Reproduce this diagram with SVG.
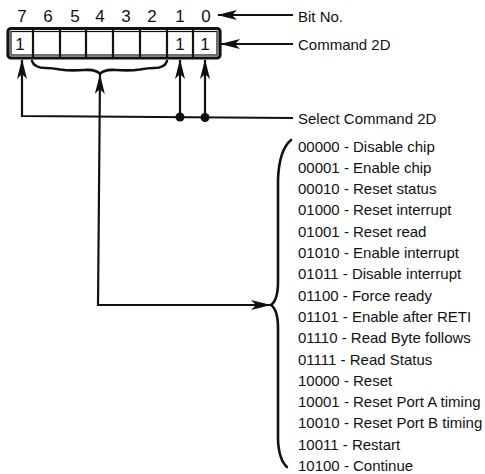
<svg xmlns="http://www.w3.org/2000/svg" width="485" height="474" viewBox="0 0 485 474">
<defs>
<style>
text{font-family:"Liberation Sans",Arial,sans-serif;fill:#111}
.bit{font-size:17px;text-anchor:middle}
.lbl{font-size:15px}
.ln{fill:none;stroke:#111;stroke-width:2.2}
.br{fill:none;stroke:#111;stroke-width:2.6;stroke-linecap:round}
</style>
<marker id="ah" viewBox="0 0 20 10" refX="19" refY="5" markerWidth="20" markerHeight="10" markerUnits="userSpaceOnUse" orient="auto-start-reverse">
<path d="M0,0 L20,5 L0,10 L5,5 z" fill="#111"/>
</marker>
</defs>
<rect width="485" height="474" fill="#fff"/>

<g id="bitnumbers">
<text class="bit" x="22" y="22">7</text>
<text class="bit" x="48" y="22">6</text>
<text class="bit" x="75" y="22">5</text>
<text class="bit" x="100" y="22">4</text>
<text class="bit" x="126" y="22">3</text>
<text class="bit" x="152" y="22">2</text>
<text class="bit" x="180" y="22">1</text>
<text class="bit" x="206" y="22">0</text>
</g>

<g id="register">
<rect x="8" y="28.5" width="212" height="29.5" rx="3" fill="#fff" stroke="#111" stroke-width="3.2"/>
<rect x="11" y="31.5" width="206" height="23.5" fill="none" stroke="#111" stroke-width="1.2"/>
<g stroke="#111" stroke-width="2.2">
<line x1="33" y1="30" x2="33" y2="57"/>
<line x1="60" y1="30" x2="60" y2="57"/>
<line x1="86" y1="30" x2="86" y2="57"/>
<line x1="113" y1="30" x2="113" y2="57"/>
<line x1="140" y1="30" x2="140" y2="57"/>
<line x1="167" y1="30" x2="167" y2="57"/>
<line x1="193" y1="30" x2="193" y2="57"/>
</g>
<text class="bit" x="20" y="50">1</text>
<text class="bit" x="180" y="50">1</text>
<text class="bit" x="205" y="50">1</text>
</g>

<g id="brace-bits">
<path class="br" d="M32,61 Q34,68 46,68 Q52,68 60,69.5 Q70,71 84,70 Q96,69 100,74 Q104,69 116,70 Q130,71 140,69.5 Q148,68 154,68 Q165,68 167,61"/>
</g>

<g id="label-bitno"><text class="lbl" x="298" y="22">Bit No.</text></g>
<g id="label-command"><text class="lbl" x="298" y="50">Command 2D</text></g>
<g id="label-select"><text class="lbl" x="298" y="124">Select Command 2D</text></g>

<g id="brace-list">
<path class="br" stroke-width="3" d="M291,140 Q279,150 278,180 L278,282 Q278,300 271,305 Q278,310 278,328 L278,440 Q279,460 287,467"/>
</g>

<g id="command-list">
<text class="lbl" x="298" y="151.5">00000 - Disable chip</text>
<text class="lbl" x="298" y="172.8">00001 - Enable chip</text>
<text class="lbl" x="298" y="194.1">00010 - Reset status</text>
<text class="lbl" x="298" y="215.4">01000 - Reset interrupt</text>
<text class="lbl" x="298" y="236.7">01001 - Reset read</text>
<text class="lbl" x="298" y="258">01010 - Enable interrupt</text>
<text class="lbl" x="298" y="279.3">01011 - Disable interrupt</text>
<text class="lbl" x="298" y="300.6">01100 - Force ready</text>
<text class="lbl" x="298" y="321.9">01101 - Enable after RETI</text>
<text class="lbl" x="298" y="343.2">01110 - Read Byte follows</text>
<text class="lbl" x="298" y="364.5">01111 - Read Status</text>
<text class="lbl" x="298" y="385.8">10000 - Reset</text>
<text class="lbl" x="298" y="407.1">10001 - Reset Port A timing</text>
<text class="lbl" x="298" y="428.4">10010 - Reset Port B timing</text>
<text class="lbl" x="298" y="449.7">10011 - Restart</text>
<text class="lbl" x="298" y="471">10100 - Continue</text>
</g>

<g id="connectors">
<path class="ln" d="M293,15 L218,15" marker-end="url(#ah)"/>
<path class="ln" d="M293,44 L221,44" marker-end="url(#ah)"/>
<path class="ln" d="M293,118 L22,116 L22,60" marker-end="url(#ah)"/>
<path class="ln" d="M180,117 L180,60" marker-end="url(#ah)"/>
<path class="ln" d="M205,117.5 L205,60" marker-end="url(#ah)"/>
<path class="ln" d="M100,75 L98,305 L270,305" marker-start="url(#ah)" marker-end="url(#ah)"/>
<circle cx="180" cy="117" r="4.5" fill="#111"/>
<circle cx="205" cy="117.5" r="4.5" fill="#111"/>
</g>
</svg>
